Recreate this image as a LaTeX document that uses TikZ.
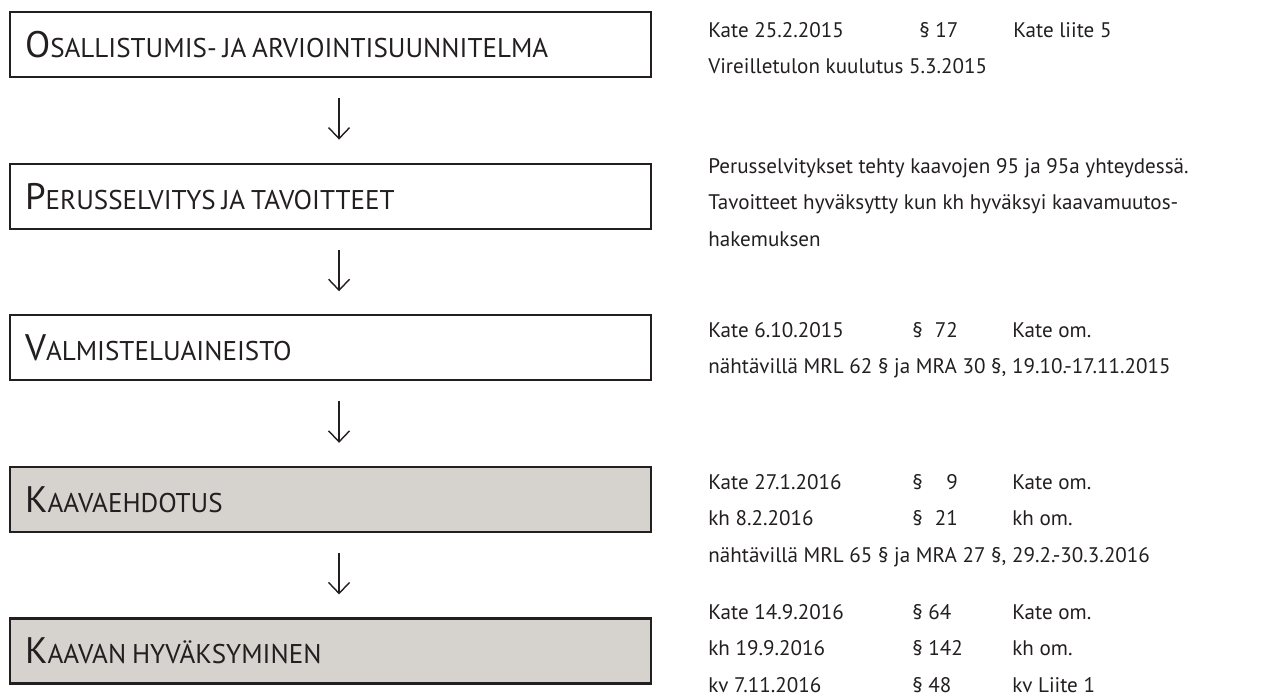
\documentclass[tikz,border=0pt]{standalone}
\usepackage{fontspec}
\setmainfont{PT Sans}
\usepackage{xcolor}
\usepackage{tikz}
\usetikzlibrary{arrows.meta, positioning}

\definecolor{tumma}{RGB}{35,31,32}
\definecolor{harmaa}{RGB}{214,210,206}
\newcommand{\kapiteeli}[2]{{\fontsize{21}{23}\selectfont #1}{\fontsize{15.4}{17}\selectfont #2}}

\begin{document}
\begin{tikzpicture}[
                node distance=1.69cm,
                vaihe/.style={rectangle, draw=tumma, line width=1.2pt, minimum width=12.82cm, minimum height=1.3cm, inner xsep=0.3cm, text width=12.22cm, align=left, text=tumma},
                harmaana/.style={fill=harmaa},
                tieto/.style={anchor=base west, inner sep=0pt, text=tumma, font=\fontsize{12}{21}\selectfont},
                nuoli/.style={draw=tumma, line width=0.8pt, -{Straight Barb[length=0.22cm, width=0.42cm]}, shorten <=0.4cm, shorten >=0.46cm}
            ]
                \useasboundingbox (0,0) rectangle (25.48,-13.9);

                % Vaiheet
                \node[vaihe, anchor=north west] (oas) at (0.18,-0.22) {\kapiteeli{O}{SALLISTUMIS- JA ARVIOINTISUUNNITELMA}};
                \node[vaihe, below=of oas] (perus) {\kapiteeli{P}{ERUSSELVITYS JA TAVOITTEET}};
                \node[vaihe, below=of perus] (valm) {\kapiteeli{V}{ALMISTELUAINEISTO}};
                \node[vaihe, harmaana, below=of valm] (ehd) {\kapiteeli{K}{AAVAEHDOTUS}};
                \node[vaihe, harmaana, below=of ehd] (hyv) {\kapiteeli{K}{AAVAN HYVÄKSYMINEN}};

                % Nuolet
                \draw[nuoli] ([xshift=0.17cm]oas.south) -- ([xshift=0.17cm]perus.north);
                \draw[nuoli] ([xshift=0.17cm]perus.south) -- ([xshift=0.17cm]valm.north);
                \draw[nuoli] ([xshift=0.17cm]valm.south) -- ([xshift=0.17cm]ehd.north);
                \draw[nuoli] ([xshift=0.17cm]ehd.south) -- ([xshift=0.17cm]hyv.north);

                % Kasittelytiedot
                \node[tieto] (t-oas) at (14.16,-0.74) {\begin{tabular}[t]{@{}p{4.22cm}@{}p{1.88cm}@{}l@{}}
                    Kate 25.2.2015 & § 17 & Kate liite 5\\
                    \multicolumn{3}{@{}l@{}}{Vireilletulon kuulutus 5.3.2015}
                \end{tabular}};
                \node[tieto] (t-perus) at (14.16,-3.46) {\begin{tabular}[t]{@{}l@{}}
                    Perusselvitykset tehty kaavojen 95 ja 95a yhteydessä.\\
                    Tavoitteet hyväksytty kun kh hyväksyi kaavamuutos-\\
                    hakemuksen
                \end{tabular}};
                \node[tieto] (t-valm) at (14.16,-6.74) {\begin{tabular}[t]{@{}p{4.08cm}@{}p{2cm}@{}l@{}}
                    Kate 6.10.2015 & §\hspace{0.24cm}72 & Kate om.\\
                    \multicolumn{3}{@{}l@{}}{nähtävillä MRL 62 § ja MRA 30 §, 19.10.-17.11.2015}
                \end{tabular}};
                \node[tieto] (t-ehd) at (14.16,-9.78) {\begin{tabular}[t]{@{}p{4.08cm}@{}p{2cm}@{}l@{}}
                    Kate 27.1.2016 & §\hspace{0.24cm}\phantom{2}9 & Kate om.\\
                    kh 8.2.2016 & §\hspace{0.24cm}21 & kh om.\\
                    \multicolumn{3}{@{}l@{}}{nähtävillä MRL 65 § ja MRA 27 §, 29.2.-30.3.2016}
                \end{tabular}};
                \node[tieto] (t-hyv) at (14.16,-12.38) {\begin{tabular}[t]{@{}p{4.08cm}@{}p{2cm}@{}l@{}}
                    Kate 14.9.2016 & § 64 & Kate om.\\
                    kh 19.9.2016 & § 142 & kh om.\\
                    kv 7.11.2016 & § 48 & kv Liite 1
                \end{tabular}};
            \end{tikzpicture}
\end{document}
